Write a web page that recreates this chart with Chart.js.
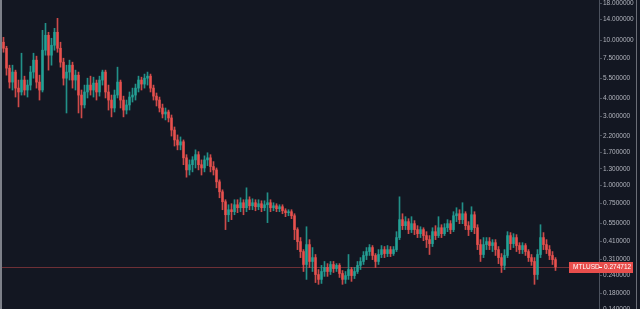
<!DOCTYPE html>
<html>
<head>
<meta charset="utf-8">
<script src="https://cdn.jsdelivr.net/npm/chart.js@4/dist/chart.umd.min.js"></script>
<style>
html, body { margin: 0; padding: 0; background: #131722; overflow: hidden; }
#wrap { position: relative; width: 640px; height: 309px; }
#edgeL { position: absolute; left: 0; top: 0; width: 2px; height: 309px; background: #7d8089; }
#edgeR { position: absolute; left: 636px; top: 0; width: 1px; height: 309px; background: #6a6d76; }
</style>
</head>
<body>
<div id="wrap">
  <canvas id="chart" width="640" height="309"></canvas>
  <div id="edgeL"></div>
  <div id="edgeR"></div>
</div>
<script>
// MTLUSD candles
var opens = [
  9.72, 8.83, 6.44, 5.16, 6.05, 4.69, 4.41, 5.33, 4.55, 4.92,
  6.05, 7.31, 5.16, 4.55, 8.56, 10.85, 7.91, 9.26, 11.38, 8.83,
  7.08, 5.49, 6.05, 6.75, 5.33, 5.76, 4.20, 3.59, 4.41, 4.92,
  4.55, 5.08, 4.41, 5.33, 6.05, 4.41, 3.88, 3.42, 4.20, 5.16,
  3.88, 3.31, 3.59, 4.07, 4.20, 4.69, 5.33, 5.00, 5.49, 5.67,
  4.69, 4.13, 3.88, 3.42, 3.11, 3.21, 2.92, 2.41, 2.06, 1.90,
  2.00, 1.55, 1.28, 1.39, 1.50, 1.63, 1.39, 1.32, 1.50, 1.55,
  1.35, 1.28, 1.059, 0.904, 0.772, 0.628, 0.680, 0.659, 0.736, 0.702,
  0.760, 0.702, 0.797, 0.724, 0.760, 0.713, 0.748, 0.702, 0.736, 0.760,
  0.702, 0.724, 0.691, 0.713, 0.669, 0.649, 0.659, 0.618, 0.496, 0.410,
  0.350, 0.285, 0.391, 0.299, 0.318, 0.243, 0.225, 0.255, 0.272, 0.255,
  0.285, 0.267, 0.281, 0.247, 0.225, 0.239, 0.263, 0.239, 0.255, 0.281,
  0.299, 0.329, 0.350, 0.373, 0.329, 0.299, 0.334, 0.361, 0.339, 0.361,
  0.339, 0.361, 0.437, 0.581, 0.528, 0.563, 0.496, 0.545, 0.496, 0.465,
  0.496, 0.451, 0.423, 0.397, 0.480, 0.451, 0.511, 0.465, 0.511, 0.545,
  0.496, 0.618, 0.638, 0.581, 0.638, 0.528, 0.496, 0.628, 0.511, 0.391,
  0.334, 0.391, 0.410, 0.385, 0.403, 0.361, 0.318, 0.281, 0.329, 0.451,
  0.397, 0.437, 0.385, 0.361, 0.385, 0.350, 0.318, 0.299, 0.243, 0.334,
  0.437, 0.391, 0.361, 0.329, 0.308
];
var highs = [
  10.51, 9.11, 6.75, 6.75, 6.24, 5.33, 8.16, 5.67, 5.33, 6.64,
  8.16, 7.79, 5.76, 11.74, 13.12, 11.38, 10.35, 12.12, 14.20, 9.72,
  7.54, 6.75, 7.31, 7.08, 6.24, 6.05, 4.55, 4.92, 5.49, 5.67,
  5.58, 5.33, 5.67, 6.24, 6.24, 4.92, 4.20, 4.55, 6.54, 5.33,
  4.13, 3.88, 4.41, 4.69, 5.00, 5.67, 5.58, 5.86, 6.05, 5.86,
  4.92, 4.34, 4.07, 3.64, 3.42, 3.31, 3.06, 2.53, 2.23, 2.16,
  2.06, 1.63, 1.50, 1.58, 1.76, 1.71, 1.50, 1.60, 1.68, 1.63,
  1.46, 1.32, 1.093, 0.933, 0.797, 0.736, 0.748, 0.797, 0.797, 0.822,
  0.797, 0.963, 0.835, 0.809, 0.797, 0.797, 0.784, 0.784, 0.890, 0.797,
  0.760, 0.748, 0.736, 0.736, 0.691, 0.680, 0.680, 0.638, 0.511, 0.437,
  0.361, 0.519, 0.423, 0.373, 0.334, 0.263, 0.281, 0.299, 0.289, 0.299,
  0.299, 0.289, 0.289, 0.259, 0.255, 0.334, 0.272, 0.272, 0.299, 0.318,
  0.350, 0.373, 0.391, 0.385, 0.339, 0.361, 0.385, 0.379, 0.385, 0.379,
  0.379, 0.480, 0.835, 0.638, 0.609, 0.590, 0.609, 0.572, 0.528, 0.519,
  0.511, 0.480, 0.451, 0.511, 0.528, 0.609, 0.536, 0.545, 0.581, 0.572,
  0.659, 0.702, 0.680, 0.760, 0.659, 0.563, 0.713, 0.659, 0.536, 0.423,
  0.437, 0.437, 0.437, 0.423, 0.423, 0.379, 0.339, 0.361, 0.480, 0.473,
  0.465, 0.458, 0.403, 0.403, 0.397, 0.361, 0.334, 0.318, 0.361, 0.536,
  0.473, 0.423, 0.385, 0.350, 0.318
];
var lows = [
  8.29, 5.76, 4.69, 4.55, 4.07, 3.48, 4.20, 4.20, 4.07, 4.55,
  5.49, 4.69, 3.88, 4.41, 7.91, 6.24, 6.75, 8.56, 8.29, 6.54,
  4.92, 3.16, 5.33, 4.69, 4.55, 3.16, 2.92, 3.42, 4.01, 4.20,
  4.07, 3.88, 4.13, 4.92, 4.01, 3.31, 2.97, 3.21, 4.01, 3.42,
  2.97, 3.11, 3.31, 3.76, 3.88, 4.41, 4.55, 4.69, 4.92, 4.41,
  3.88, 3.53, 3.21, 2.92, 2.83, 2.74, 2.19, 1.87, 1.76, 1.76,
  1.39, 1.14, 1.18, 1.24, 1.32, 1.28, 1.18, 1.24, 1.37, 1.24,
  1.18, 0.963, 0.822, 0.680, 0.496, 0.563, 0.581, 0.628, 0.649, 0.659,
  0.628, 0.659, 0.680, 0.680, 0.669, 0.680, 0.659, 0.669, 0.554, 0.659,
  0.669, 0.659, 0.659, 0.638, 0.609, 0.618, 0.590, 0.423, 0.361, 0.318,
  0.255, 0.225, 0.272, 0.255, 0.214, 0.208, 0.211, 0.236, 0.236, 0.243,
  0.251, 0.255, 0.232, 0.208, 0.211, 0.225, 0.218, 0.228, 0.247, 0.263,
  0.285, 0.308, 0.329, 0.308, 0.272, 0.285, 0.318, 0.318, 0.323, 0.323,
  0.329, 0.350, 0.423, 0.496, 0.496, 0.465, 0.473, 0.458, 0.437, 0.437,
  0.416, 0.373, 0.334, 0.379, 0.423, 0.437, 0.437, 0.451, 0.480, 0.465,
  0.480, 0.563, 0.545, 0.545, 0.496, 0.451, 0.480, 0.465, 0.361, 0.299,
  0.318, 0.361, 0.361, 0.350, 0.329, 0.289, 0.251, 0.263, 0.318, 0.361,
  0.373, 0.350, 0.339, 0.339, 0.329, 0.299, 0.281, 0.208, 0.225, 0.318,
  0.361, 0.339, 0.308, 0.285, 0.259
];
var closes = [
  8.83, 6.44, 5.16, 6.05, 4.69, 4.41, 5.33, 4.55, 4.92, 6.05,
  7.31, 5.16, 4.55, 8.56, 10.85, 7.91, 9.26, 11.38, 8.83, 7.08,
  5.49, 6.05, 6.75, 5.33, 5.76, 4.20, 3.59, 4.41, 4.92, 4.55,
  5.08, 4.41, 5.33, 6.05, 4.41, 3.88, 3.42, 4.20, 5.16, 3.88,
  3.31, 3.59, 4.07, 4.20, 4.69, 5.33, 5.00, 5.49, 5.67, 4.69,
  4.13, 3.88, 3.42, 3.11, 3.21, 2.92, 2.41, 2.06, 1.90, 2.00,
  1.55, 1.28, 1.39, 1.50, 1.63, 1.39, 1.32, 1.50, 1.55, 1.35,
  1.28, 1.059, 0.904, 0.772, 0.628, 0.680, 0.659, 0.736, 0.702, 0.760,
  0.702, 0.797, 0.724, 0.760, 0.713, 0.748, 0.702, 0.736, 0.760, 0.702,
  0.724, 0.691, 0.713, 0.669, 0.649, 0.659, 0.618, 0.496, 0.410, 0.350,
  0.285, 0.391, 0.299, 0.318, 0.243, 0.225, 0.255, 0.272, 0.255, 0.285,
  0.267, 0.281, 0.247, 0.225, 0.239, 0.263, 0.239, 0.255, 0.281, 0.299,
  0.329, 0.350, 0.373, 0.329, 0.299, 0.334, 0.361, 0.339, 0.361, 0.339,
  0.361, 0.437, 0.581, 0.528, 0.563, 0.496, 0.545, 0.496, 0.465, 0.496,
  0.451, 0.423, 0.397, 0.480, 0.451, 0.511, 0.465, 0.511, 0.545, 0.496,
  0.618, 0.638, 0.581, 0.638, 0.528, 0.496, 0.628, 0.511, 0.391, 0.334,
  0.391, 0.410, 0.385, 0.403, 0.361, 0.318, 0.281, 0.329, 0.451, 0.397,
  0.437, 0.385, 0.361, 0.385, 0.350, 0.318, 0.299, 0.243, 0.334, 0.437,
  0.391, 0.361, 0.329, 0.308, 0.274712
];

var tickValues = [18, 14, 10, 7.5, 5.5, 4, 3, 2.2, 1.7, 1.3, 1.0, 0.75, 0.55, 0.41, 0.31, 0.24, 0.18, 0.14];
var symbol = "MTLUSD";
var lastPrice = 0.274712;
var emptySlots = 14; // free space right of the last candle

var upColor = "rgba(38,166,154,0.85)";
var downColor = "rgba(239,83,80,0.85)";

// labels: one slot per candle plus the empty ones
var labels = [];
for (var i = 0; i < opens.length + emptySlots; i++) labels.push(i);

var wicks = [];
var bodies = [];
for (var i = 0; i < opens.length; i++) {
    wicks.push([lows[i], highs[i]]);
    bodies.push([opens[i], closes[i]]);
}

function candleColor(c) {
    var i = c.dataIndex;
    return closes[i] >= opens[i] ? upColor : downColor;
}

// last price line + tag on the axis
var lastPricePlugin = {
    id: "lastPrice",
    beforeDatasetsDraw: function(chart) {
        var c = chart.ctx;
        var a = chart.chartArea;
        var y = Math.round(chart.scales.y.getPixelForValue(lastPrice)) + 0.5;
        c.save();
        c.strokeStyle = "#6e3036";
        c.lineWidth = 1;
        c.beginPath();
        c.moveTo(a.left, y);
        c.lineTo(a.right, y);
        c.stroke();
        c.restore();
    },
    afterDraw: function(chart) {
        var c = chart.ctx;
        var a = chart.chartArea;
        var y = Math.round(chart.scales.y.getPixelForValue(lastPrice));
        c.save();
        c.fillStyle = "#e84e4c";
        c.fillRect(a.right - 30, y - 5, 64, 11);
        c.fillStyle = "#ffffff";
        c.font = "6.5px 'Liberation Sans', Arial, sans-serif";
        c.textBaseline = "middle";
        c.fillText(symbol, a.right - 26, y + 0.5);
        c.fillRect(a.right, y, 3, 1);
        c.fillText(lastPrice.toFixed(6), a.right + 5, y + 0.5);
        c.restore();
    }
};

var ctx = document.getElementById("chart").getContext("2d");
var candleChart = new Chart(ctx, {
    type: "bar",
    data: {
        labels: labels,
        datasets: [{
            data: wicks,
            backgroundColor: candleColor,
            barThickness: 1,
            grouped: false
        }, {
            data: bodies,
            backgroundColor: candleColor,
            barThickness: 2,
            grouped: false
        }]
    },
    options: {
        responsive: false,
        animation: false,
        layout: { padding: { left: 2 } },
        plugins: {
            legend: { display: false },
            tooltip: { enabled: false }
        },
        scales: {
            x: { display: false },
            y: {
                type: "logarithmic",
                position: "right",
                min: 0.1406,
                max: 19.0,
                afterBuildTicks: function(s) {
                    s.ticks = tickValues.map(function(v) { return { value: v }; });
                },
                afterFit: function(s) {
                    s.width = 41;
                    s.paddingTop = 0;
                    s.paddingBottom = 0;
                },
                grid: { drawOnChartArea: false, drawTicks: true, tickLength: 3, color: "#4c525e" },
                border: { display: true, color: "#4c525e" },
                ticks: {
                    color: "#b2b5be",
                    font: { family: "'Liberation Sans', Arial, sans-serif", size: 6.5 },
                    padding: 1,
                    autoSkip: false,
                    callback: function(v) { return Number(v).toFixed(6); }
                }
            }
        }
    },
    plugins: [lastPricePlugin]
});
</script>
</body>
</html>
